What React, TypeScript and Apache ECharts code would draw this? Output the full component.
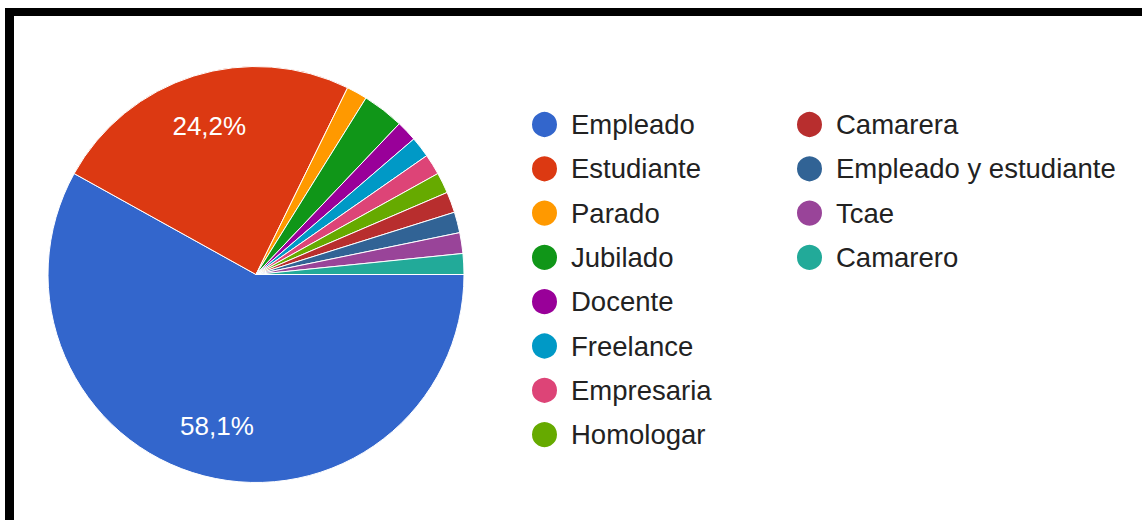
import React, { useEffect, useRef } from "react";
import * as echarts from "echarts";

const categories = [
  "Empleado",
  "Estudiante",
  "Parado",
  "Jubilado",
  "Docente",
  "Freelance",
  "Empresaria",
  "Homologar",
  "Camarera",
  "Empleado y estudiante",
  "Tcae",
  "Camarero",
];
const counts = [36, 15, 1, 2, 1, 1, 1, 1, 1, 1, 1, 1];
const colors = [
  "#3366cc",
  "#dc3912",
  "#ff9900",
  "#109618",
  "#990099",
  "#0099c6",
  "#dd4477",
  "#66aa00",
  "#b82e2e",
  "#316395",
  "#994499",
  "#22aa99",
];
const legendCol1 = categories.slice(0, 8);
const legendCol2 = categories.slice(8);

const FONT = "'Liberation Sans', Arial, sans-serif";

export default function App() {
  const ref = useRef<HTMLDivElement>(null);
  useEffect(() => {
    if (!ref.current) return;
    const chart = echarts.init(ref.current, null, { renderer: "svg" });
    const total = counts.reduce((a, b) => a + b, 0);
    const data = categories.map((name, i) => ({
      name,
      value: counts[i],
      itemStyle: { color: colors[i] },
    }));
    const legendBase = {
      orient: "vertical" as const,
      icon: "circle",
      itemWidth: 27,
      itemHeight: 27,
      itemGap: 15.3,
      padding: 0,
      selectedMode: false,
      textStyle: {
        fontFamily: FONT,
        fontSize: 27.5,
        color: "#222222",
        lineHeight: 27,
        padding: [0, 0, 0, 8],
      },
    };
    chart.setOption({
      animation: false,
      backgroundColor: "#ffffff",
      legend: [
        { ...legendBase, left: 530, top: 110, data: legendCol1 },
        { ...legendBase, left: 795, top: 110, data: legendCol2 },
      ],
      series: [
        {
          type: "pie",
          center: [256, 274.5],
          radius: [0, 208],
          startAngle: 0,
          clockwise: true,
          label: { show: false },
          labelLine: { show: false },
          itemStyle: { borderColor: "#ffffff", borderWidth: 1 },
          emphasis: { disabled: true },
          data,
        },
        {
          type: "pie",
          center: [256, 274.5],
          radius: [98, 208],
          startAngle: 0,
          clockwise: true,
          silent: true,
          legendHoverLink: false,
          itemStyle: { color: "rgba(0,0,0,0)", borderWidth: 0 },
          label: {
            show: true,
            position: "inside",
            color: "#ffffff",
            fontFamily: FONT,
            fontSize: 26,
            formatter: (p: any) => {
              const pct = (p.value / total) * 100;
              return pct > 5 ? pct.toFixed(1).replace(".", ",") + "%" : "";
            },
          },
          labelLine: { show: false },
          emphasis: { disabled: true },
          data: categories.map((name, i) => ({
            name,
            value: counts[i],
            itemStyle: { color: "rgba(0,0,0,0)" },
          })),
        },
      ],
    });
    return () => chart.dispose();
  }, []);
  return (
    <div
      style={{
        position: "fixed",
        left: 0,
        top: 0,
        width: 1142,
        height: 520,
        background: "#ffffff",
        overflow: "hidden",
      }}
    >
      <div ref={ref} style={{ position: "absolute", left: 0, top: 0, width: 1142, height: 520 }} />
      <div
        style={{
          position: "absolute",
          left: 5,
          top: 8,
          width: 1142,
          height: 520,
          boxSizing: "border-box",
          borderTop: "8px solid #000",
          borderLeft: "9px solid #000",
          pointerEvents: "none",
        }}
      />
    </div>
  );
}
